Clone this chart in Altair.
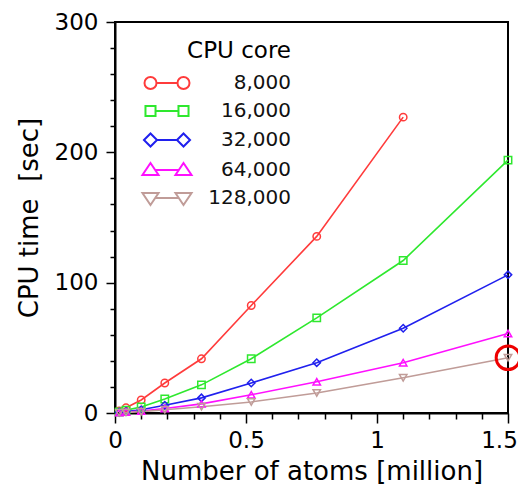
import altair as alt
import pandas as pd

# ---- data ----
atoms = [0.016, 0.042, 0.1, 0.19, 0.33, 0.52, 0.77, 1.1, 1.5]
cores = ["8,000", "16,000", "32,000", "64,000", "128,000"]
t_8k = [1.5, 4.0, 10.0, 23.0, 41.6, 82.5, 135.5, 227.0]
t_16k = [0.8, 2.2, 4.6, 10.8, 21.6, 41.6, 73.0, 117.0, 194.0]
t_32k = [0.5, 1.2, 2.5, 6.0, 11.6, 23.0, 38.6, 65.0, 106.0]
t_64k = [0.3, 0.8, 1.5, 3.5, 7.0, 14.0, 24.0, 38.6, 61.0]
t_128k = [0.2, 0.5, 1.0, 2.5, 4.8, 8.5, 15.4, 27.0, 42.4]
series = [t_8k, t_16k, t_32k, t_64k, t_128k]

colors = ["#ff3b3b", "#2ee82e", "#2020ee", "#ff10ff", "#c09c98"]
shapes = ["circle", "square", "diamond", "triangle-up", "triangle-down"]

# legend glyphs: line with a marker at each end (unit = 7.5 px)
leg_shapes = [
    "M-1.4,0L1.4,0M-3,0A0.8,0.8 0 1,1 -1.4,0A0.8,0.8 0 1,1 -3,0ZM1.4,0A0.8,0.8 0 1,1 3,0A0.8,0.8 0 1,1 1.4,0Z",
    "M-1.53,0L1.53,0M-2.87,-0.67H-1.53V0.67H-2.87ZM1.53,-0.67H2.87V0.67H1.53Z",
    "M-1.33,0L1.33,0M-3.07,0L-2.2,-0.87L-1.33,0L-2.2,0.87ZM1.33,0L2.2,-0.87L3.07,0L2.2,0.87Z",
    "M-1.58,0L1.58,0M-2.2,-0.93L-1.13,0.67L-3.27,0.67ZM2.2,-0.93L3.27,0.67L1.13,0.67Z",
    "M-1.58,0L1.58,0M-2.2,0.93L-1.13,-0.67L-3.27,-0.67ZM2.2,0.93L3.27,-0.67L1.13,-0.67Z",
]

rows = []
for core, vals in zip(cores, series):
    for x, t in zip(atoms, vals):
        rows.append({"atoms": x, "time": t, "core": core})
df = pd.DataFrame(rows)

FONT = "DejaVu Sans"

x_ticks = [round(i * 0.1, 1) for i in range(16)]
y_ticks = list(range(0, 301, 20))

x_enc = alt.X(
    "atoms:Q",
    scale=alt.Scale(domain=[0, 1.5], nice=False, zero=False),
    axis=alt.Axis(
        title="Number of atoms [million]",
        values=x_ticks,
        format="~g",
        labelExpr="abs(datum.value*2 - round(datum.value*2)) < 0.001 ? datum.label : ''",
        tickSize={"condition": {"test": "abs(datum.value*2 - round(datum.value*2)) < 0.001", "value": 10}, "value": 6},
        labelOffset={"condition": {"test": "datum.value === 1.5", "value": -9}, "value": 0},
        labelOverlap=False,
        labelFlush=False,
        labelPadding=6,
        titlePadding=6,
        grid=False,
    ),
)
y_enc = alt.Y(
    "time:Q",
    scale=alt.Scale(domain=[0, 300], nice=False),
    axis=alt.Axis(
        title="CPU time\u00a0 [sec]",
        values=y_ticks,
        labelExpr="datum.value % 100 === 0 ? datum.label : ''",
        tickSize={"condition": {"test": "datum.value % 100 === 0", "value": 9}, "value": 5},
        labelOverlap=False,
        labelFlush=False,
        labelPadding=8,
        titlePadding=12,
        grid=False,
    ),
)

color_plain = alt.Color("core:N", scale=alt.Scale(domain=cores, range=colors), legend=None)
shape_plain = alt.Shape("core:N", scale=alt.Scale(domain=cores, range=shapes), legend=None)

base = alt.Chart(df)

lines = base.mark_line(strokeWidth=1.6).encode(x=x_enc, y=y_enc, color=color_plain, detail="core:N")
points = base.mark_point(filled=False, size=55, strokeWidth=1.5, opacity=1).encode(
    x=x_enc, y=y_enc, color=color_plain, shape=shape_plain
)
ring = (
    base.transform_filter("datum.core === '128,000' && datum.atoms === 1.5")
    .mark_point(shape="circle", filled=False, size=560, strokeWidth=3, color="#ee0000", opacity=1)
    .encode(x=x_enc, y=y_enc)
)
legend_layer = (
    base.transform_filter("false")
    .mark_point(filled=False, size=225, strokeWidth=2, opacity=1)
    .encode(
        x=x_enc,
        y=y_enc,
        color=alt.Color(
            "core:N",
            scale=alt.Scale(domain=cores, range=colors),
            legend=alt.Legend(
                title="CPU core",
                orient="none",
                legendX=42,
                legendY=18,
                symbolSize=225,
                symbolStrokeWidth=2,
                labelAlign="right",
                labelOffset=114,
                labelFont=FONT,
                labelFontSize=20,
                labelColor="#111111",
                titleFont=FONT,
                titleFontSize=23,
                titleFontWeight="normal",
                titleColor="black",
                titleAnchor="end",
                titlePadding=10,
                rowPadding=8,
            ),
        ),
        shape=alt.Shape(
            "core:N",
            scale=alt.Scale(domain=cores, range=leg_shapes),
            legend=alt.Legend(title="CPU core"),
        ),
    )
)

chart = (
    alt.layer(lines, points, ring, legend_layer)
    .resolve_scale(color="independent", shape="independent")
    .properties(
        width=393,
        height=391,
        autosize=alt.AutoSizeParams(type="none"),
        padding={"left": 107, "top": 14, "right": 10, "bottom": 75},
    )
    .configure_view(stroke="black", strokeWidth=2)
    .configure_axis(
        domainColor="black",
        domainWidth=2,
        tickColor="black",
        tickWidth=1.5,
        labelFont=FONT,
        labelFontSize=23,
        labelColor="black",
        titleFont=FONT,
        titleFontSize=26,
        titleFontWeight="normal",
        titleColor="black",
    )
)

chart.save("out.html", embed_options={"renderer": "svg", "actions": False})
